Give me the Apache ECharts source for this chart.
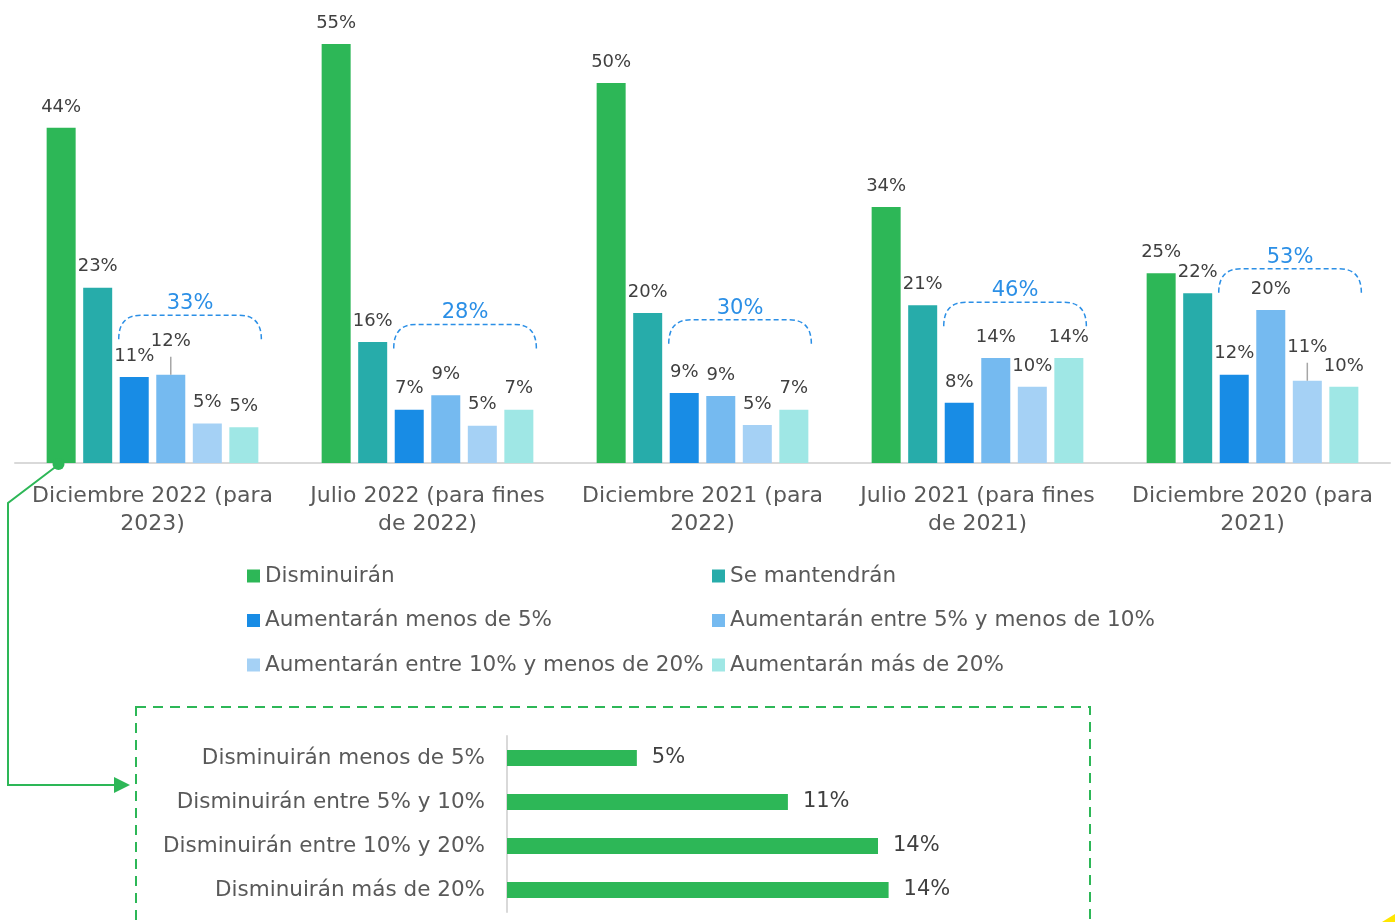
<!DOCTYPE html>
<html>
<head>
<meta charset="utf-8">
<script src="https://cdn.jsdelivr.net/npm/echarts@6/dist/echarts.min.js"></script>
<style>
  html, body { margin: 0; padding: 0; background: #fff; }
  #main { width: 1395px; height: 922px; }
</style>
</head>
<body>
<div id="main"></div>
<script>
// categorias y series (en %)
const categories = [
  'Diciembre 2022 (para\n2023)',
  'Julio 2022 (para fines\nde 2022)',
  'Diciembre 2021 (para\n2022)',
  'Julio 2021 (para fines\nde 2021)',
  'Diciembre 2020 (para\n2021)'
];
const seriesNames = [
  'Disminuirán',
  'Se mantendrán',
  'Aumentarán menos de 5%',
  'Aumentarán entre 5% y menos de 10%',
  'Aumentarán entre 10% y menos de 20%',
  'Aumentarán más de 20%'
];
const disminuiran = [44, 55, 49.9, 33.6, 24.9];
const seMantendran = [23, 15.9, 19.7, 20.7, 22.3];
const aumMenos5 = [11.3, 7.0, 9.2, 7.9, 11.6];
const aum5a10 = [11.6, 8.9, 8.8, 13.8, 20.1];
const aum10a20 = [5.2, 4.9, 5.0, 10.0, 10.8];
const aumMas20 = [4.7, 7.0, 7.0, 13.8, 10.0];
const seriesValues = [disminuiran, seMantendran, aumMenos5, aum5a10, aum10a20, aumMas20];

// nivel (en %) de la llave punteada sobre las barras de "aumentarán"
const bracketTop = [19.4, 18.2, 18.8, 21.1, 25.5];
// etiquetas levantadas con línea guía: [categoría, serie]
const raisedLabels = [[0, 3], [4, 4]];

// desglose de "Disminuirán" (Diciembre 2022)
const subCategories = [
  'Disminuirán menos de 5%',
  'Disminuirán entre 5% y 10%',
  'Disminuirán entre 10% y 20%',
  'Disminuirán más de 20%'
];
const subValues = [4.9, 10.6, 14.0, 14.4];

const colors = ['#2DB757', '#27ACAA', '#188CE5', '#75BAF0', '#A5D1F5', '#9FE7E5'];
const FONT = 'DejaVu Sans';
const BAR_W = 29;
const GAP = 0.26;
const PITCH = BAR_W * (1 + GAP);

const r = v => Math.round(v);
const totals = categories.map((c, i) =>
  r(aumMenos5[i]) + r(aum5a10[i]) + r(aum10a20[i]) + r(aumMas20[i]));

const barSeries = seriesNames.map((name, s) => ({
  name: name,
  type: 'bar',
  xAxisIndex: 0,
  yAxisIndex: 0,
  barWidth: BAR_W,
  barGap: (GAP * 100) + '%',
  itemStyle: { color: colors[s] },
  label: {
    show: true,
    position: 'top',
    distance: 12,
    fontFamily: FONT,
    fontSize: 18,
    color: '#404040',
    formatter: p => r(p.value) + '%'
  },
  data: seriesValues[s].map((v, i) =>
    raisedLabels.some(([ci, si]) => ci === i && si === s)
      ? { value: v, label: { offset: [0, -12] } }
      : v)
}));

const option = {
  animation: false,
  grid: [
    { left: 15, right: 5, top: 6, height: 457 },
    { left: 507, width: 530, top: 736, height: 176 }
  ],
  xAxis: [
    {
      type: 'category',
      gridIndex: 0,
      data: categories,
      axisLine: { lineStyle: { color: '#d9d9d9', width: 2 } },
      axisTick: { show: false },
      axisLabel: {
        interval: 0,
        margin: 19,
        fontFamily: FONT,
        fontSize: 22,
        lineHeight: 28,
        color: '#595959'
      }
    },
    { type: 'value', gridIndex: 1, min: 0, max: 20, show: false }
  ],
  yAxis: [
    { type: 'value', gridIndex: 0, min: 0, max: 60, show: false },
    {
      type: 'category',
      gridIndex: 1,
      inverse: true,
      data: subCategories,
      axisLine: { show: true, lineStyle: { color: '#d9d9d9', width: 2 } },
      axisTick: { show: false },
      axisLabel: {
        margin: 22,
        fontFamily: FONT,
        fontSize: 21.5,
        color: '#595959'
      }
    }
  ],
  legend: [
    { data: [seriesNames[0], seriesNames[2], seriesNames[4]], left: 247 },
    { data: [seriesNames[1], seriesNames[3], seriesNames[5]], left: 712 }
  ].map(l => Object.assign(l, {
    top: 565,
    padding: 0,
    orient: 'vertical',
    icon: 'rect',
    itemWidth: 13,
    itemHeight: 13,
    itemGap: 22.5,
    selectedMode: false,
    textStyle: { fontFamily: FONT, fontSize: 21.5, color: '#595959', lineHeight: 22 }
  })),
  series: barSeries.concat([
    {
      type: 'custom',
      xAxisIndex: 0,
      yAxisIndex: 0,
      silent: true,
      z: 5,
      data: categories.map((c, i) => [i, bracketTop[i], totals[i]]),
      renderItem: function (params, api) {
        const c = api.coord([api.value(0), api.value(1)]);
        const x0 = c[0] + (2 - 2.5) * PITCH - BAR_W / 2 - 1;
        const x1 = c[0] + 2.5 * PITCH + BAR_W / 2 + 3;
        const y0 = c[1];
        const d = 'M' + x0 + ' ' + (y0 + 24) +
          ' Q' + x0 + ' ' + y0 + ' ' + (x0 + 22) + ' ' + y0 +
          ' L' + (x1 - 22) + ' ' + y0 +
          ' Q' + x1 + ' ' + y0 + ' ' + x1 + ' ' + (y0 + 24);
        return {
          type: 'group',
          children: [
            {
              type: 'path',
              shape: { pathData: d },
              style: { fill: 'none', stroke: '#2B8FE6', lineWidth: 1.5, lineDash: [5, 3] }
            },
            {
              type: 'text',
              style: {
                text: api.value(2) + '%',
                x: (x0 + x1) / 2,
                y: y0 - 1,
                align: 'center',
                verticalAlign: 'bottom',
                fill: '#2B8FE6',
                fontFamily: FONT,
                fontSize: 21
              }
            }
          ]
        };
      }
    },
    {
      type: 'custom',
      xAxisIndex: 0,
      yAxisIndex: 0,
      silent: true,
      z: 5,
      data: raisedLabels.map(([ci, si]) => [ci, seriesValues[si][ci], si]),
      renderItem: function (params, api) {
        const c = api.coord([api.value(0), api.value(1)]);
        const x = c[0] + (api.value(2) - 2.5) * PITCH;
        return {
          type: 'line',
          shape: { x1: x, y1: c[1], x2: x, y2: c[1] - 18 },
          style: { stroke: '#a6a6a6', lineWidth: 1.5 }
        };
      }
    },
    {
      type: 'bar',
      xAxisIndex: 1,
      yAxisIndex: 1,
      barWidth: 16,
      itemStyle: { color: colors[0] },
      label: {
        show: true,
        position: 'right',
        distance: 15,
        fontFamily: FONT,
        fontSize: 21,
        color: '#404040',
        formatter: p => r(p.value) + '%'
      },
      data: subValues
    }
  ]),
  graphic: [
    {
      type: 'rect',
      shape: { x: 136, y: 707, width: 954, height: 300 },
      style: { fill: 'none', stroke: '#2DB757', lineWidth: 2, lineDash: [10, 7] }
    },
    {
      type: 'polyline',
      shape: { points: [[58, 465], [8, 503], [8, 785], [118, 785]] },
      style: { fill: 'none', stroke: '#2DB757', lineWidth: 2 },
      z: 10
    },
    {
      type: 'polygon',
      shape: { points: [[114, 777], [130, 785], [114, 793]] },
      style: { fill: '#2DB757' },
      z: 10
    },
    {
      type: 'circle',
      shape: { cx: 58.5, cy: 464, r: 6 },
      style: { fill: '#2DB757' },
      z: 10
    },
    {
      type: 'polygon',
      shape: { points: [[1382, 922], [1395, 914], [1395, 922]] },
      style: { fill: '#FFE600' }
    }
  ]
};

const chart = echarts.init(document.getElementById('main'));
chart.setOption(option);
</script>
</body>
</html>
